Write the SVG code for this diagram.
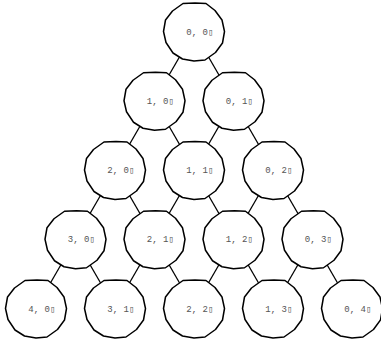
<svg xmlns="http://www.w3.org/2000/svg" xmlns:xlink="http://www.w3.org/1999/xlink" width="381" height="346" viewBox="0 0 381 346">
<defs>
<style>
.shape{fill:#fff;stroke:#000;stroke-width:1.5;stroke-linejoin:round}
.lbl{font-family:"Liberation Mono","DejaVu Sans Mono",monospace;font-size:9px;fill:#555}
.edge line{stroke:#000;stroke-width:1.3}
</style>
<polygon id="blob" class="shape" points="30.5,0 28.5,11.5 21.5,21 11,28.5 0,29.5 -11.5,27.5 -21,21.5 -28,11 -30.5,0 -28.5,-11.5 -21.5,-20.5 -11,-28 1,-28.5 12,-28 21,-21 28,-11.5"/>
</defs>
<rect width="381" height="346" fill="#fff"/>
<g id="connectors" class="edge">
<line x1="179.6" y1="56.7" x2="168.9" y2="75.3"/>
<line x1="208.4" y1="56.7" x2="219.1" y2="75.3"/>
<line x1="140.1" y1="125.95" x2="129.4" y2="144.55"/>
<line x1="168.9" y1="125.95" x2="179.6" y2="144.55"/>
<line x1="219.1" y1="125.95" x2="208.4" y2="144.55"/>
<line x1="247.9" y1="125.95" x2="258.6" y2="144.55"/>
<line x1="100.6" y1="195.2" x2="89.9" y2="213.8"/>
<line x1="129.4" y1="195.2" x2="140.1" y2="213.8"/>
<line x1="179.6" y1="195.2" x2="168.9" y2="213.8"/>
<line x1="208.4" y1="195.2" x2="219.1" y2="213.8"/>
<line x1="258.6" y1="195.2" x2="247.9" y2="213.8"/>
<line x1="287.4" y1="195.2" x2="298.1" y2="213.8"/>
<line x1="61.1" y1="264.45" x2="50.4" y2="283.05"/>
<line x1="89.9" y1="264.45" x2="100.6" y2="283.05"/>
<line x1="140.1" y1="264.45" x2="129.4" y2="283.05"/>
<line x1="168.9" y1="264.45" x2="179.6" y2="283.05"/>
<line x1="219.1" y1="264.45" x2="208.4" y2="283.05"/>
<line x1="247.9" y1="264.45" x2="258.6" y2="283.05"/>
<line x1="298.1" y1="264.45" x2="287.4" y2="283.05"/>
<line x1="326.9" y1="264.45" x2="337.6" y2="283.05"/>
</g>
<g id="n00" transform="translate(194,31.5)"><use href="#blob"/><text class="lbl" x="-7.7" y="3">0, 0▯</text></g>
<g id="n10" transform="translate(154.5,100.75)"><use href="#blob"/><text class="lbl" x="-7.7" y="3">1, 0▯</text></g>
<g id="n01" transform="translate(233.5,100.75)"><use href="#blob"/><text class="lbl" x="-7.7" y="3">0, 1▯</text></g>
<g id="n20" transform="translate(115,170)"><use href="#blob"/><text class="lbl" x="-7.7" y="3">2, 0▯</text></g>
<g id="n11" transform="translate(194,170)"><use href="#blob"/><text class="lbl" x="-7.7" y="3">1, 1▯</text></g>
<g id="n02" transform="translate(273,170)"><use href="#blob"/><text class="lbl" x="-7.7" y="3">0, 2▯</text></g>
<g id="n30" transform="translate(75.5,239.25)"><use href="#blob"/><text class="lbl" x="-7.7" y="3">3, 0▯</text></g>
<g id="n21" transform="translate(154.5,239.25)"><use href="#blob"/><text class="lbl" x="-7.7" y="3">2, 1▯</text></g>
<g id="n12" transform="translate(233.5,239.25)"><use href="#blob"/><text class="lbl" x="-7.7" y="3">1, 2▯</text></g>
<g id="n03" transform="translate(312.5,239.25)"><use href="#blob"/><text class="lbl" x="-7.7" y="3">0, 3▯</text></g>
<g id="n40" transform="translate(36,308.5)"><use href="#blob"/><text class="lbl" x="-7.7" y="3">4, 0▯</text></g>
<g id="n31" transform="translate(115,308.5)"><use href="#blob"/><text class="lbl" x="-7.7" y="3">3, 1▯</text></g>
<g id="n22" transform="translate(194,308.5)"><use href="#blob"/><text class="lbl" x="-7.7" y="3">2, 2▯</text></g>
<g id="n13" transform="translate(273,308.5)"><use href="#blob"/><text class="lbl" x="-7.7" y="3">1, 3▯</text></g>
<g id="n04" transform="translate(352,308.5)"><use href="#blob"/><text class="lbl" x="-7.7" y="3">0, 4▯</text></g>
</svg>
